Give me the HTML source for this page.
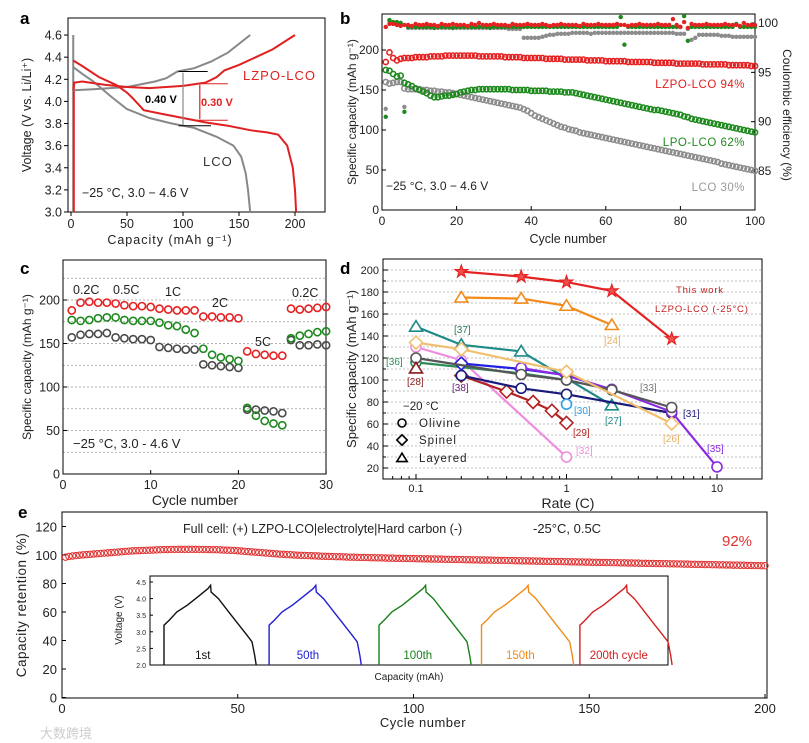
<!DOCTYPE html>
<html><head><meta charset="utf-8"><style>
html,body{margin:0;padding:0;background:#fff;}
svg{display:block;font-family:"Liberation Sans","Noto Sans CJK SC",sans-serif;}
</style></head><body>
<svg id="fig" width="809" height="743" viewBox="0 0 809 743" xmlns="http://www.w3.org/2000/svg"></svg>
<script>
// ---------- DATA ----------
// panel a
const aLcoChargeCap=[2,20,50,75,85,95,110,125,140,160];
const aLcoChargeV=[4.10,4.11,4.13,4.18,4.21,4.27,4.30,4.36,4.44,4.60];
const aLcoDisCap=[2,10,20,35,50,70,90,110,130,145,152,156,158,160];
const aLcoDisV=[4.31,4.25,4.18,4.05,3.93,3.85,3.80,3.76,3.68,3.60,3.50,3.35,3.20,3.00];
const aLzChargeCap=[2,3,10,30,50,70,100,120,130,137,150,165,180,200];
const aLzChargeV=[4.10,4.17,4.18,4.15,4.13,4.12,4.14,4.17,4.22,4.28,4.33,4.40,4.47,4.60];
const aLzDisCap=[2,10,25,40,50,55,65,80,100,120,140,160,175,185,193,198,200,201];
const aLzDisV=[4.37,4.32,4.22,4.15,4.08,4.03,3.92,3.89,3.85,3.81,3.78,3.74,3.72,3.70,3.60,3.40,3.20,3.00];
const aXTicks=[0,50,100,150,200];
const aYTicks=[3.0,3.2,3.4,3.6,3.8,4.0,4.2,4.4,4.6];
// panel b
const bLzpo=[185,197,190,187,189,190,190,190,191,191,191,191,192,192,192,192,193,193,193,193,193,193,193,193,193,192,192,192,192,192,192,192,191,191,191,191,191,190,190,190,190,190,190,189,189,189,189,189,188,188,188,188,188,188,187,187,187,187,187,186,186,186,186,186,186,185,185,185,185,185,185,185,184,184,184,184,184,184,183,183,183,183,183,183,183,182,182,182,182,182,182,182,181,181,181,181,181,181,180,180];
const bLpo=[175,174,170,167,168,159,157,155,152,150,148,146,143,141,141,142,143,143,144,145,147,148,149,150,150,151,151,151,151,151,151,151,151,151,150,150,150,150,150,149,149,149,149,149,148,148,148,148,147,147,147,146,145,144,143,142,141,140,139,138,137,136,135,134,133,132,131,130,129,128,127,126,125,125,124,123,122,121,120,119,117,116,114,113,112,111,110,109,108,107,106,105,104,103,102,101,100,99,98,97];
const bLco=[160,158,159,160,160,152,151,151,151,151,150,150,149,149,148,148,147,147,146,145,144,143,142,141,140,139,138,137,136,135,134,133,132,131,130,129,128,126,124,121,118,116,114,112,110,108,106,104,103,101,100,99,97,96,95,94,93,92,91,90,89,88,87,86,85,84,83,82,81,80,79,78,77,76,75,74,73,72,71,70,69,68,67,66,65,64,63,62,61,60,58,57,56,55,54,53,52,51,50,49];
const bCeLzpo=[99.6,99.9,99.9,99.8,99.7,99.8,99.8,99.7,99.9,99.8,99.8,99.9,99.8,99.8,99.7,99.9,99.8,99.8,99.9,99.8,99.8,99.8,99.7,99.9,99.8,100.0,99.8,99.8,99.8,99.9,99.8,99.8,99.8,99.7,99.9,99.8,99.8,99.8,99.9,99.8,99.8,99.8,99.9,99.8,99.7,99.8,99.8,99.9,99.8,99.8,99.8,99.8,99.7,99.9,99.8,99.8,99.8,99.9,99.8,99.8,99.8,99.8,99.9,99.8,99.8,99.7,99.8,99.8,99.9,99.8,99.8,99.8,99.8,99.9,99.8,99.8,99.8,100.4,99.8,99.6,100.1,99.5,99.9,99.8,99.8,99.8,99.9,99.8,99.8,99.8,99.8,99.9,99.8,99.8,99.8,99.7,100.0,99.8,99.8,99.8];
const bCeLpo=[90.5,100.3,100.1,100.1,100.0,91.0,99.6,99.6,99.6,99.6,99.6,99.6,99.6,99.5,99.6,99.6,99.6,99.6,99.5,99.6,99.6,99.6,99.6,99.6,99.6,99.6,99.6,99.6,99.5,99.6,99.6,99.6,99.6,99.6,99.6,99.6,99.6,99.6,99.6,99.6,99.6,99.6,99.6,99.6,99.6,99.6,99.6,99.6,99.6,99.6,99.6,99.6,99.6,99.6,99.6,99.6,99.6,99.6,99.6,99.6,99.6,99.6,99.6,100.6,97.8,99.6,99.6,99.6,99.6,99.6,99.6,99.6,99.6,99.6,99.6,99.6,99.6,99.6,99.6,99.6,100.7,98.2,99.6,99.6,99.6,99.6,99.6,99.6,99.6,99.6,99.6,99.6,99.6,99.6,99.9,99.6,99.6,99.6,99.6,99.6];
const bCeLco=[91.3,100.2,100.0,100.0,100.0,91.5,99.5,99.5,99.5,99.5,99.5,99.5,99.5,99.5,99.5,99.5,99.5,99.5,99.5,99.5,99.5,99.5,99.5,99.5,99.5,99.5,99.5,99.5,99.5,99.5,99.5,99.5,99.5,99.4,99.4,99.4,99.4,98.5,98.5,98.5,98.5,98.5,98.6,98.7,98.8,98.8,98.9,98.9,98.9,98.9,99.0,99.0,99.0,99.0,99.0,98.9,99.0,99.0,99.0,99.0,99.0,99.0,99.0,99.0,99.0,99.0,99.0,99.0,99.0,99.0,99.0,99.0,99.0,99.0,99.0,99.0,99.0,99.0,98.9,98.9,98.9,99.4,98.3,98.5,98.8,98.8,98.8,98.8,98.8,98.8,98.7,98.7,98.7,98.6,98.6,98.6,98.6,98.6,98.6,98.6];
const bXTicks=[0,20,40,60,80,100];
const bYTicks=[0,50,100,150,200];
const bY2Ticks=[85,90,95,100];
// panel c
const cRed=[188,197,198,197,197,196,194,193,193,192,190,189,188,188,188,181,181,180,180,179,141,138,137,136,136,190,189,190,191,192];
const cGreen=[177,176,177,179,180,180,177,176,176,176,174,171,170,166,162,144,137,134,132,130,76,67,61,58,56,156,159,161,163,164];
const cGray=[157,160,161,161,162,157,156,155,155,154,146,145,144,143,143,126,125,124,123,122,74,74,73,72,70,154,148,148,149,148];
const cXTicks=[0,10,20,30];
const cYTicks=[0,50,100,150,200];
// panel d
const dRatesThis=[0.2,0.5,1,2,5], dValsThis=[198.5,194,189,181,137.5];
const dRates24=[0.2,0.5,1,2], dVals24=[175,174,167.5,150];
const dRates27=[0.1,0.2,0.5,2], dVals27=[148.5,132,126,77];
const dRates26=[0.1,0.2,1,5], dVals26=[134,128,107.5,60.5];
const dRates32=[0.1,0.2,1], dVals32=[130,118,30];
const dRates29=[0.2,0.4,0.6,0.8,1], dVals29=[104,89.5,80,72,61];
const dRates31=[0.2,0.5,1,5], dVals31=[104,92.5,87,70];
const dRates38=[0.2,0.5,1], dVals38=[115,110,104.5];
const dRates35=[0.5,1,2,5,10], dVals35=[111,104,91.5,71,21];
const dRates36=[0.1,0.5,1], dVals36=[116,106,100];
const dRates33=[0.1,0.5,1,2,5], dVals33=[120,105,100,91,75];
const dRates28=[0.1], dVals28=[110.5];
const dRates30=[1], dVals30=[78];
const dXTicks=[0.1,1,10];
const dYTicks=[20,40,60,80,100,120,140,160,180,200];
// panel e
const eRetention=[98.5,99,99.3,99.6,99.9,100.1,100.3,100.5,100.7,100.9,101.1,101.3,101.5,101.7,101.9,102.1,102.3,102.5,102.7,102.9,
103,103.1,103.2,103.3,103.4,103.5,103.6,103.7,103.8,103.8,103.9,103.9,104,104,104,104,104,104,103.9,103.9,
103.8,103.8,103.7,103.7,103.6,103.5,103.4,103.3,103.2,103,102.8,102.6,102.4,102.2,102,101.8,101.6,101.4,101.2,101,
100.8,100.6,100.5,100.3,100.2,100,99.9,99.8,99.7,99.6,99.5,99.4,99.3,99.2,99.1,99,98.9,98.8,98.8,98.7,
98.6,98.5,98.5,98.4,98.3,98.3,98.2,98.1,98.1,98,98,97.9,97.8,97.8,97.7,97.7,97.6,97.6,97.5,97.5,
97.4,97.4,97.3,97.3,97.2,97.2,97.1,97.1,97,97,96.9,96.9,96.8,96.8,96.7,96.7,96.6,96.6,96.5,96.5,
96.4,96.4,96.3,96.3,96.2,96.2,96.1,96.1,96,96,95.9,95.9,95.8,95.8,95.7,95.7,95.6,95.6,95.5,95.5,
95.4,95.4,95.3,95.3,95.2,95.2,95.1,95.1,95,95,94.9,94.9,94.8,94.8,94.7,94.7,94.6,94.6,94.5,94.5,
94.4,94.4,94.3,94.3,94.2,94.2,94.1,94.1,94,94,93.9,93.9,93.8,93.8,93.7,93.7,93.6,93.6,93.5,93.5,
93.4,93.4,93.3,93.3,93.2,93.2,93.1,93.1,93,93,92.9,92.9,92.8,92.8,92.7,92.7,92.6,92.6,92.5,92.5];
const eXTicks=[0,50,100,150,200];
const eYTicks=[0,20,40,60,80,100,120];
const insetProfileCap=[0,0,1,2.5,4.5,6.5,8.5,9,9.1,10.5,12.5,14.5,16,17,17.5,17.8];
const insetProfileV=[2.0,3.2,3.35,3.6,3.8,4.05,4.3,4.4,4.2,4.0,3.6,3.2,2.9,2.7,2.3,2.0];
const insetStarts=[2.7,23,44.2,64,83];
const insetLabels=['1st','50th','100th','150th','200th cycle'];
const insetYTicks=[2.0,2.5,3.0,3.5,4.0,4.5];

// ---------- helpers ----------
const NS='http://www.w3.org/2000/svg';
const svg=document.getElementById('fig');
function add(parent,tag,attrs,name){
  const el=document.createElementNS(NS,tag);
  for(const k in attrs) el.setAttribute(k,attrs[k]);
  
  
  parent.appendChild(el);
  return el;
}
function txt(parent,x,y,s,name,o){
  o=o||{};
  const a={x:x,y:y,'font-size':o.size||12,fill:o.fill||'#222','text-anchor':o.anchor||'start'};
  if(o.weight) a['font-weight']=o.weight;
  if(o.rot!==undefined) a.transform='rotate('+o.rot+' '+x+' '+y+')';
  if(o.ls) a['letter-spacing']=o.ls;
  const t=add(parent,'text',a,name);
  t.textContent=s;
  return t;
}
function pathFrom(xs,ys,fx,fy){return xs.map((v,i)=>(i?'L':'M')+fx(v).toFixed(1)+','+fy(ys[i]).toFixed(1)).join('');}
function marker(g,type,cx,cy,r,color,name,fill){
  fill=fill||'none';
  if(type==='circle') return add(g,'circle',{cx:cx,cy:cy,r:r,fill:fill,stroke:color,'stroke-width':1.6},name);
  if(type==='diamond') return add(g,'polygon',{points:[cx,cy-r*1.3,cx+r*1.3,cy,cx,cy+r*1.3,cx-r*1.3,cy].join(','),fill:fill,stroke:color,'stroke-width':1.6},name);
  if(type==='triangle') return add(g,'polygon',{points:[cx,cy-r*1.2,cx+r*1.3,cy+r*0.9,cx-r*1.3,cy+r*0.9].join(','),fill:fill,stroke:color,'stroke-width':1.6},name);
  if(type==='star'){let p=[];for(let i=0;i<10;i++){const rr=i%2?r*0.5:r*1.3;const an=-Math.PI/2+i*Math.PI/5;p.push((cx+rr*Math.cos(an)).toFixed(1)+','+(cy+rr*Math.sin(an)).toFixed(1));}
    return add(g,'polygon',{points:p.join(' '),fill:'#f05050',stroke:color,'stroke-width':1.2},name);}
}

// ================= PANEL A =================
(function(){
  const g=add(svg,'g',{},'panel-a');
  const X=v=>71+v*1.12, Y=v=>212-(v-3)*110.6;
  txt(g,20,24,'a','panel-a-label',{size:17,weight:'bold',fill:'#000'});
  add(g,'rect',{x:68,y:18,width:257,height:194,fill:'none',stroke:'#000','stroke-width':1},'panel-a-frame');
  aXTicks.forEach(t=>{add(g,'line',{x1:X(t),y1:212,x2:X(t),y2:216,stroke:'#000'},'x-tick');txt(g,X(t),228,String(t),'x-tick-label',{size:12.5,anchor:'middle'});});
  aYTicks.forEach(t=>{add(g,'line',{x1:64,y1:Y(t),x2:68,y2:Y(t),stroke:'#000'},'y-tick');txt(g,62,Y(t)+4.5,t.toFixed(1),'y-tick-label',{size:12.5,anchor:'end'});});
  txt(g,170,244,'Capacity (mAh g⁻¹)','x-axis-title',{size:12.5,anchor:'middle',ls:1});
  txt(g,31,115,'Voltage (V vs. Li/Li⁺)','y-axis-title',{size:12.5,anchor:'middle',rot:-90});
  add(g,'line',{x1:X(2),y1:Y(3),x2:X(2),y2:Y(4.6),stroke:'#888','stroke-width':2},'lco-initial-line');
  add(g,'line',{x1:X(2.5),y1:Y(3),x2:X(2.5),y2:Y(4.18),stroke:'#e02020','stroke-width':2},'lzpo-initial-line');
  add(g,'path',{d:pathFrom(aLcoChargeCap,aLcoChargeV,X,Y),fill:'none',stroke:'#888','stroke-width':2},'lco-charge-curve');
  add(g,'path',{d:pathFrom(aLcoDisCap,aLcoDisV,X,Y),fill:'none',stroke:'#888','stroke-width':2},'lco-discharge-curve');
  add(g,'path',{d:pathFrom(aLzChargeCap,aLzChargeV,X,Y),fill:'none',stroke:'#e02020','stroke-width':2},'lzpo-charge-curve');
  add(g,'path',{d:pathFrom(aLzDisCap,aLzDisV,X,Y),fill:'none',stroke:'#e02020','stroke-width':2},'lzpo-discharge-curve');
  add(g,'line',{x1:X(96),y1:Y(4.27),x2:X(122),y2:Y(4.27),stroke:'#000'},'lco-upper-mark');
  add(g,'line',{x1:X(96),y1:Y(3.78),x2:X(125),y2:Y(3.78),stroke:'#000'},'lco-lower-mark');
  add(g,'line',{x1:X(100),y1:Y(4.26),x2:X(100),y2:Y(3.79),stroke:'#888','stroke-width':1.2},'lco-gap-arrow');
  add(g,'line',{x1:X(112),y1:Y(4.16),x2:X(140),y2:Y(4.16),stroke:'#e02020'},'lzpo-upper-mark');
  add(g,'line',{x1:X(112),y1:Y(3.83),x2:X(140),y2:Y(3.83),stroke:'#e02020'},'lzpo-lower-mark');
  add(g,'line',{x1:X(115),y1:Y(4.15),x2:X(115),y2:Y(3.84),stroke:'#e02020','stroke-width':1.2},'lzpo-gap-arrow');
  txt(g,145,103,'0.40 V','lco-gap-label',{size:11,weight:'bold',fill:'#000'});
  txt(g,201,106,'0.30 V','lzpo-gap-label',{size:11,weight:'bold',fill:'#e02020'});
  txt(g,243,80,'LZPO-LCO','lzpo-label',{size:13,fill:'#e02020',ls:1});
  txt(g,203,166,'LCO','lco-label',{size:13,fill:'#333',ls:1});
  txt(g,82,197,'−25 °C, 3.0  −  4.6 V','condition-label',{size:12.5,fill:'#222'});
})();

// ================= PANEL B =================
(function(){
  const g=add(svg,'g',{},'panel-b');
  const X=v=>382+v*3.73, Y=v=>210-v*0.8, Y2=v=>23+(100-v)*9.87;
  txt(g,340,24,'b','panel-b-label',{size:17,weight:'bold',fill:'#000'});
  add(g,'rect',{x:382,y:14,width:373,height:196,fill:'none',stroke:'#000'},'panel-b-frame');
  bXTicks.forEach(t=>{add(g,'line',{x1:X(t),y1:210,x2:X(t),y2:206,stroke:'#000'},'x-tick');txt(g,X(t),225,String(t),'x-tick-label',{size:12,anchor:'middle'});});
  bYTicks.forEach(t=>{add(g,'line',{x1:382,y1:Y(t),x2:386,y2:Y(t),stroke:'#000'},'y-tick');txt(g,379,Y(t)+4,String(t),'y-tick-label',{size:12,anchor:'end'});});
  bY2Ticks.forEach(t=>{add(g,'line',{x1:751,y1:Y2(t),x2:755,y2:Y2(t),stroke:'#000'},'y2-tick');txt(g,758,Y2(t)+4,String(t),'y2-tick-label',{size:12});});
  txt(g,568,243,'Cycle number','x-axis-title',{size:12.5,anchor:'middle'});
  txt(g,356,112,'Specific capacity (mAh g⁻¹)','y-axis-title',{size:12,anchor:'middle',rot:-90});
  txt(g,783,115,'Coulombic efficiency (%)','y2-axis-title',{size:12,anchor:'middle',rot:90});
  [[bLco,'#8c8c8c','lco'],[bLpo,'#1e8a1e','lpo-lco'],[bLzpo,'#e52222','lzpo-lco']].forEach(([arr,c,n])=>{
    const sg=add(g,'g',{},n+'-capacity-series');
    arr.forEach((v,i)=>marker(sg,'circle',X(i+1),Y(v),2.6,c,n+'-capacity-point'));
  });
  [[bCeLco,'#8c8c8c','lco'],[bCeLpo,'#1e8a1e','lpo-lco'],[bCeLzpo,'#e52222','lzpo-lco']].forEach(([arr,c,n])=>{
    const sg=add(g,'g',{},n+'-ce-series');
    arr.forEach((v,i)=>add(sg,'circle',{cx:X(i+1),cy:Y2(v),r:2.2,fill:c},n+'-ce-point'));
  });
  txt(g,745,88,'LZPO-LCO  94%','lzpo-retention-label',{size:11.5,fill:'#e02020',anchor:'end',ls:0.5});
  txt(g,745,146,'LPO-LCO  62%','lpo-retention-label',{size:11.5,fill:'#1e8a1e',anchor:'end',ls:0.5});
  txt(g,745,191,'LCO  30%','lco-retention-label',{size:11.5,fill:'#999',anchor:'end',ls:0.5});
  txt(g,386,190,'−25 °C, 3.0 − 4.6 V','condition-label',{size:12});
})();

// ================= PANEL C =================
(function(){
  const g=add(svg,'g',{},'panel-c');
  const X=v=>63+v*8.77, Y=v=>474-v*0.87;
  txt(g,20,274,'c','panel-c-label',{size:17,weight:'bold',fill:'#000'});
  [25,50,75,100,125,150,175,200,225].forEach(t=>add(g,'line',{x1:63,y1:Y(t),x2:326,y2:Y(t),stroke:'#999','stroke-dasharray':'2,2','stroke-width':0.8},'gridline'));
  add(g,'rect',{x:63,y:260,width:263,height:214,fill:'none',stroke:'#000'},'panel-c-frame');
  cXTicks.forEach(t=>{add(g,'line',{x1:X(t),y1:474,x2:X(t),y2:470,stroke:'#000'},'x-tick');txt(g,X(t),489,String(t),'x-tick-label',{size:12.5,anchor:'middle'});});
  cYTicks.forEach(t=>{add(g,'line',{x1:63,y1:Y(t),x2:67,y2:Y(t),stroke:'#000'},'y-tick');txt(g,60,Y(t)+4.5,String(t),'y-tick-label',{size:12.5,anchor:'end'});});
  txt(g,195,505,'Cycle number','x-axis-title',{size:14,anchor:'middle'});
  txt(g,31,367,'Specific capacity (mAh g⁻¹)','y-axis-title',{size:12,anchor:'middle',rot:-90});
  [[cGray,'#4a4a4a','lco'],[cGreen,'#1e8a1e','lpo-lco'],[cRed,'#e52222','lzpo-lco']].forEach(([arr,c,n])=>{
    const sg=add(g,'g',{},n+'-rate-series');
    arr.forEach((v,i)=>marker(sg,'circle',X(i+1),Y(v),3.6,c,n+'-rate-point'));
  });
  [['0.2C',73,294],['0.5C',113,294],['1C',165,296],['2C',212,307],['5C',255,346],['0.2C',292,297]].forEach(([s,x,y])=>txt(g,x,y,s,'rate-label',{size:12.5,fill:'#222'}));
  txt(g,73,448,'−25 °C, 3.0 - 4.6 V','condition-label',{size:13});
})();

// ================= PANEL D =================
(function(){
  const g=add(svg,'g',{},'panel-d');
  const X=v=>416+Math.log10(v/0.1)*150.5, Y=v=>270+(200-v)*1.1;
  txt(g,340,274,'d','panel-d-label',{size:17,weight:'bold',fill:'#000'});
  for(let t=20;t<=210;t+=10) add(g,'line',{x1:383,y1:Y(t),x2:762,y2:Y(t),stroke:'#aaa','stroke-dasharray':'2,2','stroke-width':0.8},'gridline');
  add(g,'rect',{x:383,y:259,width:379,height:220,fill:'none',stroke:'#000'},'panel-d-frame');
  for(let t=20;t<=210;t+=10) add(g,'line',{x1:383,y1:Y(t),x2:t%20?386:388,y2:Y(t),stroke:'#000'},'y-tick');
  dYTicks.forEach(t=>txt(g,379,Y(t)+4,String(t),'y-tick-label',{size:11,anchor:'end'}));
  [0.07,0.08,0.09,0.2,0.3,0.4,0.5,0.6,0.7,0.8,0.9,2,3,4,5,6,7,8,9,20].forEach(t=>{if(X(t)<762)add(g,'line',{x1:X(t),y1:479,x2:X(t),y2:476,stroke:'#000'},'x-minor-tick');});
  dXTicks.forEach(t=>{add(g,'line',{x1:X(t),y1:479,x2:X(t),y2:474,stroke:'#000'},'x-tick');txt(g,X(t),492,String(t),'x-tick-label',{size:11,anchor:'middle'});});
  txt(g,568,508,'Rate (C)','x-axis-title',{size:14,anchor:'middle'});
  txt(g,356,369,'Specific capacity (mAh g⁻¹)','y-axis-title',{size:13,anchor:'middle',rot:-90});
  const series=[
    [dRates32,dVals32,'#f08ce0','circle','ref-32'],
    [dRates29,dVals29,'#b22222','diamond','ref-29'],
    [dRates27,dVals27,'#1f8a8a','triangle','ref-27'],
    [dRates36,dVals36,'#2e8b57','circle','ref-36'],
    [dRates31,dVals31,'#1a1a7a','circle','ref-31'],
    [dRates38,dVals38,'#2020e0','diamond','ref-38'],
    [dRates35,dVals35,'#8a2be2','circle','ref-35'],
    [dRates33,dVals33,'#555555','circle','ref-33'],
    [dRates26,dVals26,'#f0c070','diamond','ref-26'],
    [dRates24,dVals24,'#f28a1a','triangle','ref-24'],
    [dRates28,dVals28,'#8b1a1a','triangle','ref-28'],
    [dRates30,dVals30,'#30a0e0','circle','ref-30'],
    [dRatesThis,dValsThis,'#e52222','star','this-work']
  ];
  series.forEach(([rs,vs,c,m,n])=>{
    const sg=add(g,'g',{},n+'-series');
    if(rs.length>1) add(sg,'path',{d:pathFrom(rs,vs,X,Y),fill:'none',stroke:c,'stroke-width':2.2},n+'-line');
    rs.forEach((r,i)=>marker(sg,m,X(r),Y(vs[i]),5,c,n+'-point','#fff'));
  });
  [['[37]',454,333,'#2e7d4f'],['[36]',386,365,'#2e8b57'],['[28]',407,385,'#8b1a1a'],['[38]',452,391,'#6a1a7a'],['[33]',640,391,'#777'],['[31]',683,417,'#1a1a7a'],['[30]',574,414,'#30a0e0'],['[27]',605,424,'#1f8a8a'],['[29]',573,436,'#b22222'],['[26]',663,442,'#e8b060'],['[35]',707,452,'#8a2be2'],['[32]',576,454,'#f08ce0'],['[24]',604,344,'#e8b060']].forEach(([s,x,y,c])=>txt(g,x,y,s,'reference-label',{size:10,fill:c}));
  txt(g,676,293,'This work','this-work-label',{size:9.5,fill:'#c02020',ls:0.8});
  txt(g,655,312,'LZPO-LCO (-25°C)','this-work-sublabel',{size:9.5,fill:'#c02020',ls:0.8});
  txt(g,403,410,'−20 °C','legend-temperature',{size:11.5,fill:'#222'});
  marker(g,'circle',402,423,4,'#000','legend-olivine-marker');
  txt(g,419,427,'Olivine','legend-olivine',{size:11.5,ls:1});
  marker(g,'diamond',402,440,4,'#000','legend-spinel-marker');
  txt(g,419,444,'Spinel','legend-spinel',{size:11.5,ls:1});
  marker(g,'triangle',402,458,4,'#000','legend-layered-marker');
  txt(g,419,462,'Layered','legend-layered',{size:11.5,ls:1});
})();

// ================= PANEL E =================
(function(){
  const g=add(svg,'g',{},'panel-e');
  const X=v=>62+v*3.515, Y=v=>697.5-v*1.425;
  txt(g,18,518,'e','panel-e-label',{size:17,weight:'bold',fill:'#000'});
  add(g,'rect',{x:62,y:512,width:705,height:186,fill:'none',stroke:'#000'},'panel-e-frame');
  eXTicks.forEach(t=>{add(g,'line',{x1:X(t),y1:698,x2:X(t),y2:694,stroke:'#000'},'x-tick');txt(g,X(t),713,String(t),'x-tick-label',{size:13,anchor:'middle'});});
  eYTicks.forEach(t=>{add(g,'line',{x1:62,y1:Y(t),x2:66,y2:Y(t),stroke:'#000'},'y-tick');txt(g,57,Y(t)+5,String(t),'y-tick-label',{size:13,anchor:'end'});});
  txt(g,423,727,'Cycle number','x-axis-title',{size:13,anchor:'middle',ls:0.5});
  txt(g,26,605,'Capacity retention (%)','y-axis-title',{size:13.5,anchor:'middle',rot:-90,ls:0.5});
  const sg=add(g,'g',{},'retention-series');
  eRetention.forEach((v,i)=>add(sg,'circle',{cx:X(i+1),cy:Y(v),r:3.2,fill:'none',stroke:'#e03030','stroke-width':1},'retention-point'));
  txt(g,183,533,'Full cell: (+) LZPO-LCO|electrolyte|Hard carbon (-)','cell-description',{size:12.5});
  txt(g,533,533,'-25°C, 0.5C','test-condition',{size:13});
  txt(g,722,546,'92%','retention-value',{size:15,fill:'#e03030'});
  // inset
  const ig=add(g,'g',{},'inset-voltage-profiles');
  const IX=v=>150+v*5.18, IY=v=>665-(v-2)*33.2;
  add(ig,'rect',{x:150,y:576,width:518,height:89,fill:'#fff',stroke:'#000'},'inset-frame');
  insetYTicks.forEach(t=>{add(ig,'line',{x1:150,y1:IY(t),x2:153,y2:IY(t),stroke:'#000'},'inset-y-tick');txt(ig,146,IY(t)+3,t.toFixed(1),'inset-y-tick-label',{size:7,anchor:'end'});});
  txt(ig,122,620,'Voltage (V)','inset-y-axis-title',{size:10,anchor:'middle',rot:-90});
  txt(ig,409,680,'Capacity (mAh)','inset-x-axis-title',{size:10,anchor:'middle'});
  const cols=['#111','#2020d0','#1a801a','#f08c1a','#d42020'];
  insetStarts.forEach((s,k)=>{
    add(ig,'path',{d:pathFrom(insetProfileCap,insetProfileV,v=>IX(v+s),IY),fill:'none',stroke:cols[k],'stroke-width':1.4},'inset-profile-'+k);
    txt(ig,IX(s+7.5),IY(2.3)+4,insetLabels[k],'inset-cycle-label',{size:11.5,fill:cols[k],anchor:'middle'});
  });
  txt(g,40,738,'大数跨境','watermark',{size:13,fill:'#ccc'});
})();
</script>
</body></html>
